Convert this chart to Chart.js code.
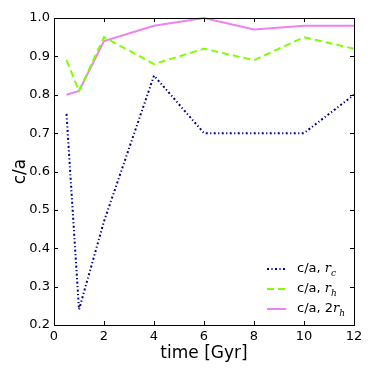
<!DOCTYPE html>
<html>
<head>
<meta charset="utf-8">
<script src="https://cdn.jsdelivr.net/npm/chart.js@4.4.1/dist/chart.umd.min.js"></script>
<style>
    html, body { margin: 0; padding: 0; background: #fff; }
    #wrap { position: relative; width: 374px; height: 374px; }
    #legend { position: absolute; font-family: 'DejaVu Sans', sans-serif; font-size: 13px; color: #000; }
    #legend .row { display: flex; align-items: center; height: 20px; }
    #legend svg { margin-right: 11px; }
    #legend i { font-family: 'DejaVu Serif', serif; }
    #legend sub { font-size: 9px; font-style: italic; font-family: 'DejaVu Serif', serif; }
</style>
</head>
<body>
<div id="wrap">
    <canvas id="shapeChart" width="374" height="374"></canvas>
    <div id="legend"></div>
</div>
<script>
const times = [0.5, 1, 2, 4, 6, 8, 10, 12];
const caRc = [0.75, 0.24, 0.47, 0.85, 0.70, 0.70, 0.70, 0.80];
const caRh = [0.89, 0.81, 0.95, 0.88, 0.92, 0.89, 0.95, 0.92];
const ca2Rh = [0.80, 0.81, 0.94, 0.98, 1.00, 0.97, 0.98, 0.98];
const xTicks = [0, 2, 4, 6, 8, 10, 12];
const yTicks = [0.2, 0.3, 0.4, 0.5, 0.6, 0.7, 0.8, 0.9, 1.0];
const legendLabels = [
    'c/a, <i>r</i><sub>c</sub>',
    'c/a, <i>r</i><sub>h</sub>',
    'c/a, 2<i>r</i><sub>h</sub>'
];

function toPoints(ys) {
    return times.map((t, i) => ({ x: t, y: ys[i] }));
}

// matplotlib style ticks pointing inward, on all four sides
const innerTicks = {
    id: 'innerTicks',
    afterDraw(chart) {
        const ctx = chart.ctx;
        const a = chart.chartArea;
        const xs = chart.scales.x, ys = chart.scales.y;
        ctx.save();
        ctx.strokeStyle = '#000';
        ctx.lineWidth = 1;
        ctx.beginPath();
        xTicks.forEach(v => {
            const px = Math.round(xs.getPixelForValue(v)) + 0.5;
            ctx.moveTo(px, a.bottom); ctx.lineTo(px, a.bottom - 4);
            ctx.moveTo(px, a.top); ctx.lineTo(px, a.top + 4);
        });
        yTicks.forEach(v => {
            const py = Math.round(ys.getPixelForValue(v)) + 0.5;
            ctx.moveTo(a.left, py); ctx.lineTo(a.left + 4, py);
            ctx.moveTo(a.right, py); ctx.lineTo(a.right - 4, py);
        });
        ctx.stroke();
        ctx.strokeRect(Math.round(a.left) + 0.5, Math.round(a.top) + 0.5,
            Math.round(a.right - a.left), Math.round(a.bottom - a.top));
        ctx.restore();
    }
};

const htmlLegend = {
    id: 'htmlLegend',
    afterUpdate(chart) {
        const box = document.getElementById('legend');
        box.innerHTML = '';
        chart.data.datasets.forEach((ds, i) => {
            const row = document.createElement('div');
            row.className = 'row';
            const dash = (ds.borderDash || []).join(' ');
            row.innerHTML = '<svg width="19" height="6"><line x1="0" y1="3" x2="19" y2="3" stroke="' +
                ds.borderColor + '" stroke-width="' + ds.borderWidth + '" stroke-dasharray="' + dash + '"/></svg>' +
                '<span>' + legendLabels[i] + '</span>';
            box.appendChild(row);
        });
        box.style.left = (chart.chartArea.right - 87) + 'px';
        box.style.top = (chart.chartArea.bottom - 66) + 'px';
    }
};

new Chart(document.getElementById('shapeChart').getContext('2d'), {
    type: 'line',
    data: {
        datasets: [{
            data: toPoints(caRc),
            borderColor: '#00008b',
            borderWidth: 2,
            borderDash: [2, 2.4, 1.2, 2.4],
            pointRadius: 0,
            tension: 0
        }, {
            data: toPoints(caRh),
            borderColor: '#7fff00',
            borderWidth: 2,
            borderDash: [7, 4],
            pointRadius: 0,
            tension: 0
        }, {
            data: toPoints(ca2Rh),
            borderColor: '#ee82ee',
            borderWidth: 2,
            pointRadius: 0,
            tension: 0
        }]
    },
    options: {
        responsive: false,
        animation: false,
        clip: false,
        layout: { padding: { top: 18, right: 20, left: 10, bottom: 10 } },
        plugins: { legend: { display: false }, tooltip: { enabled: false } },
        scales: {
            x: {
                type: 'linear', min: 0, max: 12,
                afterBuildTicks: s => { s.ticks = xTicks.map(v => ({ value: v })); },
                afterFit: s => { s.height = 39; },
                grid: { display: false, drawTicks: false },
                border: { display: false },
                ticks: { color: '#000', padding: 4, maxRotation: 0, font: { family: 'DejaVu Sans', size: 13 } },
                title: { display: true, text: 'time [Gyr]', color: '#000', padding: 0, font: { family: 'DejaVu Sans', size: 17 } }
            },
            y: {
                type: 'linear', min: 0.2, max: 1.0,
                afterBuildTicks: s => { s.ticks = yTicks.map(v => ({ value: v })); },
                afterFit: s => { s.width = 44; },
                grid: { display: false, drawTicks: false },
                border: { display: false },
                ticks: { color: '#000', padding: 4, callback: v => v.toFixed(1), font: { family: 'DejaVu Sans', size: 13 } },
                title: { display: true, text: 'c/a', color: '#000', padding: 0, font: { family: 'DejaVu Sans', size: 17 } }
            }
        }
    },
    plugins: [innerTicks, htmlLegend]
});
</script>
</body>
</html>
